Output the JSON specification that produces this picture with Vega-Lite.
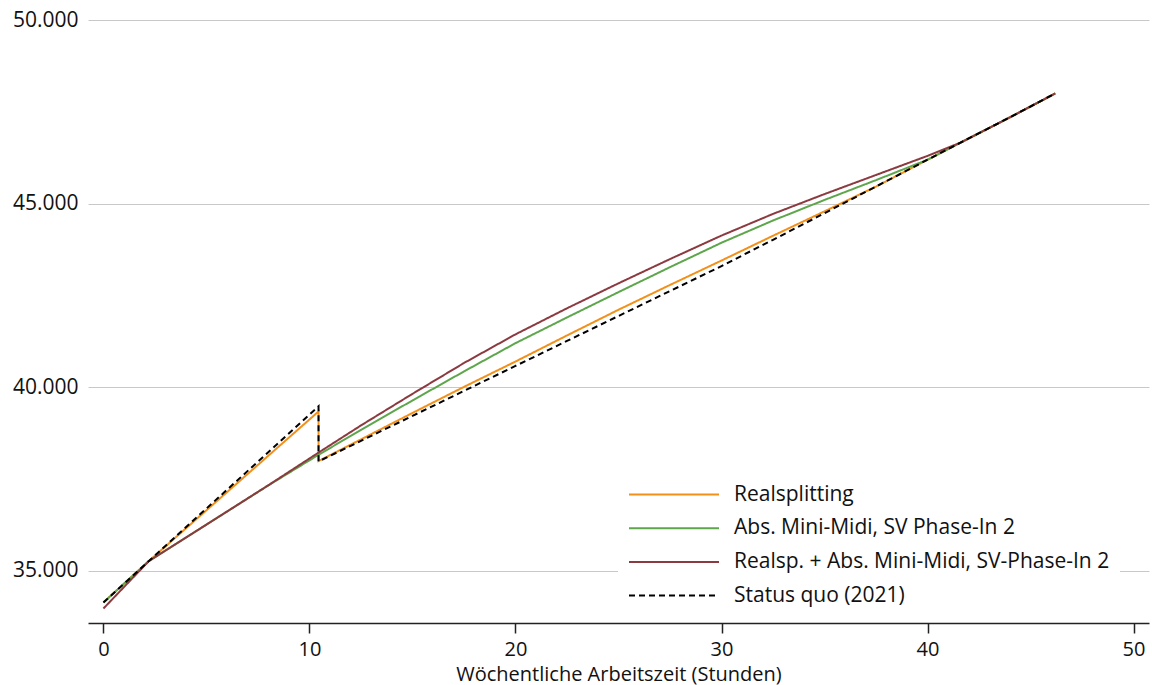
{
  "$schema": "https://vega.github.io/schema/vega-lite/v6.json",
  "width": 1061,
  "height": 603,
  "autosize": "none",
  "padding": {"left": 88, "top": 20, "right": 3, "bottom": 62},
  "background": "white",
  "config": {
    "view": {"stroke": null},
    "font": "Open Sans",
    "axis": {"labelFont": "Open Sans", "titleFont": "Open Sans", "labelColor": "#111", "titleColor": "#111"},
    "legend": {"labelFont": "Open Sans"}
  },
  "data": {
    "values": [
      {"series": "Realsplitting", "i": 0, "x": 0, "y": 34140},
      {"series": "Realsplitting", "i": 1, "x": 2.2, "y": 35265},
      {"series": "Realsplitting", "i": 2, "x": 10.44, "y": 39340},
      {"series": "Realsplitting", "i": 3, "x": 10.44, "y": 37990},
      {"series": "Realsplitting", "i": 4, "x": 12.5, "y": 38580},
      {"series": "Realsplitting", "i": 5, "x": 15, "y": 39300},
      {"series": "Realsplitting", "i": 6, "x": 17.5, "y": 40010},
      {"series": "Realsplitting", "i": 7, "x": 20, "y": 40700},
      {"series": "Realsplitting", "i": 8, "x": 22.5, "y": 41410},
      {"series": "Realsplitting", "i": 9, "x": 25, "y": 42110},
      {"series": "Realsplitting", "i": 10, "x": 27.5, "y": 42785},
      {"series": "Realsplitting", "i": 11, "x": 30, "y": 43450},
      {"series": "Realsplitting", "i": 12, "x": 32.5, "y": 44125},
      {"series": "Realsplitting", "i": 13, "x": 35, "y": 44790},
      {"series": "Realsplitting", "i": 14, "x": 37.5, "y": 45465},
      {"series": "Realsplitting", "i": 15, "x": 40, "y": 46195},
      {"series": "Realsplitting", "i": 16, "x": 41.6, "y": 46660},
      {"series": "Realsplitting", "i": 17, "x": 44, "y": 47350},
      {"series": "Realsplitting", "i": 18, "x": 46.2, "y": 48000},

      {"series": "Abs. Mini-Midi, SV Phase-In 2", "i": 0, "x": 0, "y": 34140},
      {"series": "Abs. Mini-Midi, SV Phase-In 2", "i": 1, "x": 2.2, "y": 35265},
      {"series": "Abs. Mini-Midi, SV Phase-In 2", "i": 2, "x": 5, "y": 36260},
      {"series": "Abs. Mini-Midi, SV Phase-In 2", "i": 3, "x": 8, "y": 37325},
      {"series": "Abs. Mini-Midi, SV Phase-In 2", "i": 4, "x": 10.44, "y": 38160},
      {"series": "Abs. Mini-Midi, SV Phase-In 2", "i": 5, "x": 12.5, "y": 38840},
      {"series": "Abs. Mini-Midi, SV Phase-In 2", "i": 6, "x": 15, "y": 39640},
      {"series": "Abs. Mini-Midi, SV Phase-In 2", "i": 7, "x": 17.5, "y": 40430},
      {"series": "Abs. Mini-Midi, SV Phase-In 2", "i": 8, "x": 20, "y": 41200},
      {"series": "Abs. Mini-Midi, SV Phase-In 2", "i": 9, "x": 22.5, "y": 41900},
      {"series": "Abs. Mini-Midi, SV Phase-In 2", "i": 10, "x": 25, "y": 42590},
      {"series": "Abs. Mini-Midi, SV Phase-In 2", "i": 11, "x": 27.5, "y": 43270},
      {"series": "Abs. Mini-Midi, SV Phase-In 2", "i": 12, "x": 30, "y": 43935},
      {"series": "Abs. Mini-Midi, SV Phase-In 2", "i": 13, "x": 32.5, "y": 44540},
      {"series": "Abs. Mini-Midi, SV Phase-In 2", "i": 14, "x": 35, "y": 45100},
      {"series": "Abs. Mini-Midi, SV Phase-In 2", "i": 15, "x": 37.5, "y": 45640},
      {"series": "Abs. Mini-Midi, SV Phase-In 2", "i": 16, "x": 40, "y": 46195},
      {"series": "Abs. Mini-Midi, SV Phase-In 2", "i": 17, "x": 41.6, "y": 46660},
      {"series": "Abs. Mini-Midi, SV Phase-In 2", "i": 18, "x": 44, "y": 47350},
      {"series": "Abs. Mini-Midi, SV Phase-In 2", "i": 19, "x": 46.2, "y": 48000},

      {"series": "Realsp. + Abs. Mini-Midi, SV-Phase-In 2", "i": 0, "x": 0, "y": 33975},
      {"series": "Realsp. + Abs. Mini-Midi, SV-Phase-In 2", "i": 1, "x": 2.2, "y": 35265},
      {"series": "Realsp. + Abs. Mini-Midi, SV-Phase-In 2", "i": 2, "x": 5, "y": 36260},
      {"series": "Realsp. + Abs. Mini-Midi, SV-Phase-In 2", "i": 3, "x": 8, "y": 37330},
      {"series": "Realsp. + Abs. Mini-Midi, SV-Phase-In 2", "i": 4, "x": 10.44, "y": 38220},
      {"series": "Realsp. + Abs. Mini-Midi, SV-Phase-In 2", "i": 5, "x": 12.5, "y": 38960},
      {"series": "Realsp. + Abs. Mini-Midi, SV-Phase-In 2", "i": 6, "x": 15, "y": 39820},
      {"series": "Realsp. + Abs. Mini-Midi, SV-Phase-In 2", "i": 7, "x": 17.5, "y": 40660},
      {"series": "Realsp. + Abs. Mini-Midi, SV-Phase-In 2", "i": 8, "x": 20, "y": 41440},
      {"series": "Realsp. + Abs. Mini-Midi, SV-Phase-In 2", "i": 9, "x": 22.5, "y": 42150},
      {"series": "Realsp. + Abs. Mini-Midi, SV-Phase-In 2", "i": 10, "x": 25, "y": 42830},
      {"series": "Realsp. + Abs. Mini-Midi, SV-Phase-In 2", "i": 11, "x": 27.5, "y": 43490},
      {"series": "Realsp. + Abs. Mini-Midi, SV-Phase-In 2", "i": 12, "x": 30, "y": 44130},
      {"series": "Realsp. + Abs. Mini-Midi, SV-Phase-In 2", "i": 13, "x": 32.5, "y": 44720},
      {"series": "Realsp. + Abs. Mini-Midi, SV-Phase-In 2", "i": 14, "x": 35, "y": 45260},
      {"series": "Realsp. + Abs. Mini-Midi, SV-Phase-In 2", "i": 15, "x": 37.5, "y": 45780},
      {"series": "Realsp. + Abs. Mini-Midi, SV-Phase-In 2", "i": 16, "x": 40, "y": 46300},
      {"series": "Realsp. + Abs. Mini-Midi, SV-Phase-In 2", "i": 17, "x": 41.6, "y": 46660},
      {"series": "Realsp. + Abs. Mini-Midi, SV-Phase-In 2", "i": 18, "x": 44, "y": 47350},
      {"series": "Realsp. + Abs. Mini-Midi, SV-Phase-In 2", "i": 19, "x": 46.2, "y": 48000},

      {"series": "Status quo (2021)", "i": 0, "x": 0, "y": 34140},
      {"series": "Status quo (2021)", "i": 1, "x": 2.2, "y": 35265},
      {"series": "Status quo (2021)", "i": 2, "x": 10.44, "y": 39480},
      {"series": "Status quo (2021)", "i": 3, "x": 10.44, "y": 37980},
      {"series": "Status quo (2021)", "i": 4, "x": 12.5, "y": 38540},
      {"series": "Status quo (2021)", "i": 5, "x": 15, "y": 39220},
      {"series": "Status quo (2021)", "i": 6, "x": 17.5, "y": 39900},
      {"series": "Status quo (2021)", "i": 7, "x": 20, "y": 40580},
      {"series": "Status quo (2021)", "i": 8, "x": 22.5, "y": 41260},
      {"series": "Status quo (2021)", "i": 9, "x": 25, "y": 41940},
      {"series": "Status quo (2021)", "i": 10, "x": 27.5, "y": 42620},
      {"series": "Status quo (2021)", "i": 11, "x": 30, "y": 43300},
      {"series": "Status quo (2021)", "i": 12, "x": 32.5, "y": 44015},
      {"series": "Status quo (2021)", "i": 13, "x": 35, "y": 44740},
      {"series": "Status quo (2021)", "i": 14, "x": 37.5, "y": 45465},
      {"series": "Status quo (2021)", "i": 15, "x": 40, "y": 46195},
      {"series": "Status quo (2021)", "i": 16, "x": 41.6, "y": 46660},
      {"series": "Status quo (2021)", "i": 17, "x": 44, "y": 47350},
      {"series": "Status quo (2021)", "i": 18, "x": 46.2, "y": 48000}
    ]
  },
  "mark": {"type": "line", "strokeWidth": 2, "clip": true},
  "encoding": {
    "x": {
      "field": "x", "type": "quantitative",
      "scale": {"domain": [-0.75, 50.75], "nice": false, "zero": false},
      "axis": {
        "title": "Wöchentliche Arbeitszeit (Stunden)",
        "titleFontSize": 20, "titleFontWeight": "normal",
        "titleBaseline": "alphabetic", "titleY": 57,
        "values": [0, 10, 20, 30, 40, 50],
        "labelFontSize": 20, "labelPadding": 6,
        "tickSize": 10, "tickColor": "#222", "domainColor": "#222", "domainWidth": 1.5, "tickWidth": 1.5,
        "grid": false
      }
    },
    "y": {
      "field": "y", "type": "quantitative",
      "scale": {"domain": [33580, 50000], "nice": false, "zero": false},
      "axis": {
        "title": null,
        "values": [35000, 40000, 45000, 50000],
        "labelExpr": "replace(format(datum.value, ',.0f'), ',', '.')",
        "labelFontSize": 21, "labelPadding": 10,
        "domain": false, "ticks": false,
        "grid": true, "gridColor": "#c8c8c8", "gridWidth": 1
      }
    },
    "color": {
      "field": "series", "type": "nominal",
      "scale": {
        "domain": ["Realsplitting", "Abs. Mini-Midi, SV Phase-In 2", "Realsp. + Abs. Mini-Midi, SV-Phase-In 2", "Status quo (2021)"],
        "range": ["#f39019", "#5ea64c", "#8b3a40", "#000000"]
      },
      "legend": {
        "title": null, "orient": "none", "legendX": 530, "legendY": 452.5,
        "symbolType": "stroke", "symbolSize": 8100, "symbolStrokeWidth": 2,
        "labelFontSize": 21, "labelOffset": 14, "labelColor": "#111", "labelLimit": 600,
        "padding": 10, "fillColor": "white", "clipHeight": 24, "rowPadding": 9.7
      }
    },
    "strokeDash": {
      "field": "series", "type": "nominal",
      "scale": {
        "domain": ["Realsplitting", "Abs. Mini-Midi, SV Phase-In 2", "Realsp. + Abs. Mini-Midi, SV-Phase-In 2", "Status quo (2021)"],
        "range": [[1, 0], [1, 0], [1, 0], [6, 4]]
      },
      "legend": {
        "title": null, "orient": "none", "legendX": 530, "legendY": 452.5,
        "symbolType": "stroke", "symbolSize": 8100, "symbolStrokeWidth": 2,
        "labelFontSize": 21, "labelOffset": 14, "labelColor": "#111", "labelLimit": 600,
        "padding": 10, "fillColor": "white", "clipHeight": 24, "rowPadding": 9.7
      }
    },
    "order": {"field": "i", "type": "quantitative"}
  }
}
